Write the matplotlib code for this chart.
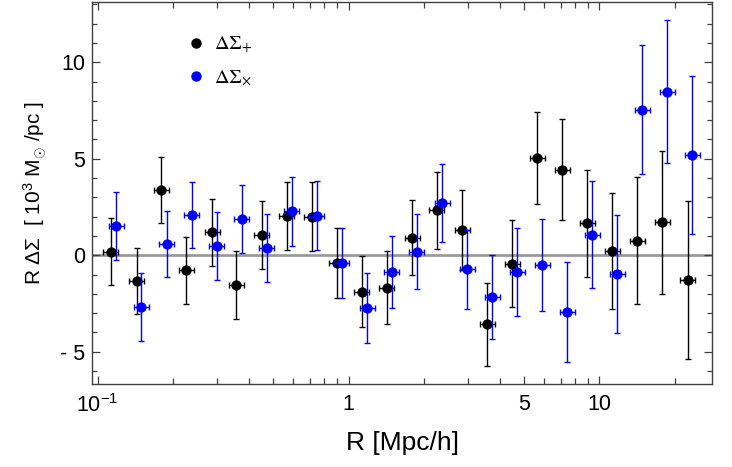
import numpy as np
import matplotlib
matplotlib.use("Agg")
import matplotlib.pyplot as plt
from matplotlib.lines import Line2D
from matplotlib.font_manager import FontProperties

plt.rcParams['font.family'] = ['Liberation Sans', 'DejaVu Sans']
plt.rcParams['mathtext.fontset'] = 'custom'
plt.rcParams['mathtext.rm'] = 'Liberation Sans'
plt.rcParams['mathtext.it'] = 'Liberation Sans:italic'

# tangential shear (plus) and cross component
r_plus = [0.113, 0.143, 0.179, 0.226, 0.286, 0.357, 0.450, 0.568, 0.715, 0.899, 1.131, 1.422,
          1.794, 2.250, 2.838, 3.579, 4.502, 5.647, 7.102, 8.955, 11.27, 14.17, 17.82, 22.50]
ds_plus = [0.19, -1.33, 3.37, -0.78, 1.19, -1.55, 1.07, 2.05, 2.0, -0.38, -1.88, -1.68,
           0.91, 2.33, 1.29, -3.58, -0.43, 5.03, 4.44, 1.66, 0.22, 0.76, 1.71, -1.28]
err_plus = [1.75, 1.72, 1.72, 1.74, 1.75, 1.75, 1.76, 1.77, 1.79, 1.81, 1.85, 1.88,
            1.94, 2.0, 2.07, 2.15, 2.27, 2.4, 2.6, 2.78, 3.02, 3.3, 3.7, 4.1]

r_cross = [0.1187, 0.1493, 0.1883, 0.2369, 0.2980, 0.3748, 0.4713, 0.5929, 0.7484, 0.9412, 1.187, 1.489,
           1.873, 2.362, 2.971, 3.737, 4.713, 5.913, 7.435, 9.378, 11.79, 14.84, 18.66, 23.47]
ds_cross = [1.52, -2.69, 0.57, 2.09, 0.48, 1.88, 0.39, 2.28, 2.05, -0.38, -2.73, -0.86,
            0.19, 2.71, -0.73, -2.18, -0.88, -0.5, -2.95, 1.07, -0.98, 7.53, 8.48, 5.21]
err_cross = [1.74, 1.75, 1.71, 1.72, 1.74, 1.78, 1.75, 1.79, 1.79, 1.81, 1.83, 1.88,
             1.95, 2.0, 2.05, 2.17, 2.27, 2.4, 2.58, 2.79, 3.04, 3.34, 3.7, 4.1]

bin_half_dex = 0.03

x_major = [0.1, 1, 5, 10]
x_major_labels = ['10$^{\\mathregular{-1}}$', '1', '5', '10']
x_minor = [0.2, 0.3, 0.4, 0.5, 0.6, 0.7, 0.8, 0.9, 2, 3, 4, 6, 7, 8, 9, 20]
y_major = [-5, 0, 5, 10]
y_major_labels = ['- 5', '0', '5', '10']


def xerr_for(r):
    r = np.asarray(r)
    return [r * (1 - 10 ** -bin_half_dex), r * (10 ** bin_half_dex - 1)]


fig = plt.figure(figsize=(7.32, 4.67), dpi=100)
ax = fig.add_axes([0.1257, 0.1777, 0.847, 0.818])

ax.axhline(0, color='#9a9a9a', lw=2.0, zorder=1)

ax.errorbar(r_plus, ds_plus, yerr=err_plus, xerr=xerr_for(r_plus), fmt='o', color='black',
            ms=6.4, elinewidth=1.0, capsize=2, capthick=1.0, zorder=3)
ax.errorbar(r_cross, ds_cross, yerr=err_cross, xerr=xerr_for(r_cross), fmt='o', color='#0000ff',
            ms=6.4, elinewidth=1.0, capsize=2, capthick=1.0, zorder=4)

ax.set_xscale('log')
ax.set_xlim(0.095, 28.1)
ax.set_ylim(-6.67, 13.12)

ax.set_xticks(x_major)
ax.set_xticklabels(x_major_labels)
ax.set_xticks(x_minor, minor=True)
ax.set_xticklabels([], minor=True)
ax.set_yticks(y_major)
ax.set_yticklabels(y_major_labels)
ax.set_yticks(np.arange(-6, 14), minor=True)

ax.tick_params(which='both', direction='in', top=True, right=True, labelsize=15.5,
               color='#404040', width=0.9)
ax.tick_params(which='major', length=5.5)
ax.tick_params(which='minor', length=3.5)
ax.tick_params(axis='x', which='minor', length=4.5)
ax.tick_params(axis='x', which='major', pad=7)
ax.tick_params(axis='y', which='major', pad=5)
for s in ax.spines.values():
    s.set_color('#404040')
    s.set_linewidth(1.0)

ax.set_xlabel('R [Mpc/h]', fontsize=19, labelpad=10)
ax.set_ylabel('R $\\Delta\\Sigma$  [ 10$^{\\mathregular{3}}$ M$_{\\odot}$ /pc ]', fontsize=15, labelpad=8)

leg_font = FontProperties(family='Liberation Serif', size=14.5, math_fontfamily='stix')
handles = [Line2D([], [], ls='none', marker='o', ms=6.5, color='black'),
           Line2D([], [], ls='none', marker='o', ms=6.5, color='#0000ff')]
ax.legend(handles, ['$\\Delta\\Sigma_{+}$', '$\\Delta\\Sigma_{\\times}$'], loc='upper left',
          bbox_to_anchor=(0.125, 0.962), frameon=False, prop=leg_font,
          handlelength=0.8, handletextpad=0.5, labelspacing=0.6)

fig.savefig('out.png', dpi=100)
